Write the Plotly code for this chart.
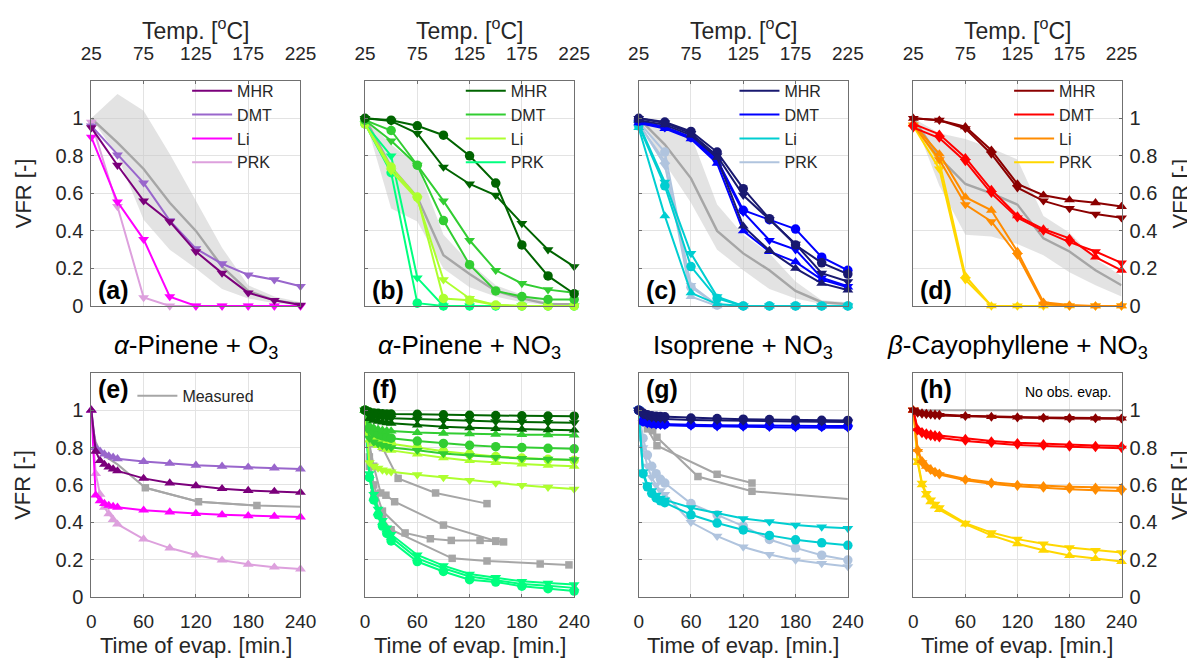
import plotly.graph_objects as go

# ---------------- shared axis values ----------------
temps = [25, 50, 75, 100, 125, 150, 175, 200, 225]
times = [0, 5, 10, 15, 20, 25, 30, 60, 90, 120, 150, 180, 210, 240]
temp_ticks = [25, 75, 125, 175, 225]
time_ticks = [0, 60, 120, 180, 240]
vfr_ticks = [0, 0.2, 0.4, 0.6, 0.8, 1]
models = ["MHR", "DMT", "Li", "PRK"]
system_titles = ["<i>α</i>-Pinene + O<sub>3</sub>", "<i>α</i>-Pinene + NO<sub>3</sub>",
                 "Isoprene + NO<sub>3</sub>", "<i>β</i>-Cayophyllene + NO<sub>3</sub>"]
panel_labels = ["(a)", "(b)", "(c)", "(d)", "(e)", "(f)", "(g)", "(h)"]

# ---------------- (a) a-pinene + O3, thermogram ----------------
a_MHR = [0.95, 0.75, 0.56, 0.45, 0.29, 0.175, 0.07, 0.03, 0.005]
a_DMT = [0.96, 0.805, 0.656, 0.455, 0.305, 0.225, 0.166, 0.14, 0.105]
a_Li = [0.90, 0.555, 0.355, 0.05, 0.0, 0.0, 0.0, 0.0, 0.0]
a_PRK = [0.98, 0.53, 0.045, 0.0, 0.0, 0.0, 0.0, 0.0, 0.0]
a_meas = [1.0, 0.87, 0.73, 0.55, 0.40, 0.21, 0.08, 0.03, 0.01]
a_lo = [1.0, 0.80, 0.46, 0.30, 0.20, 0.09, 0.04, 0.015, 0.005]
a_hi = [1.0, 1.13, 1.04, 0.81, 0.56, 0.31, 0.11, 0.05, 0.02]

# ---------------- (b) a-pinene + NO3, thermogram ----------------
b_MHR_o = [1.0, 0.99, 0.96, 0.91, 0.80, 0.655, 0.325, 0.16, 0.065]
b_MHR_v = [1.0, 0.985, 0.92, 0.74, 0.65, 0.59, 0.44, 0.30, 0.21]
b_DMT_o = [0.99, 0.935, 0.75, 0.455, 0.22, 0.08, 0.05, 0.035, 0.035]
b_DMT_v = [0.99, 0.88, 0.75, 0.56, 0.35, 0.19, 0.12, 0.087, 0.07]
b_Li_o = [0.97, 0.74, 0.58, 0.04, 0.03, 0.005, 0.0, 0.0, 0.0]
b_Li_v = [0.97, 0.72, 0.57, 0.14, 0.04, 0.005, 0.0, 0.0, 0.0]
b_PRK_o = [0.97, 0.71, 0.015, 0.0, 0.0, 0.0, 0.0, 0.0, 0.0]
b_PRK_v = [0.97, 0.80, 0.15, 0.0, 0.0, 0.0, 0.0, 0.0, 0.0]
b_meas = [1.0, 0.74, 0.58, 0.27, 0.17, 0.08, 0.04, 0.01, 0.01]
b_lo = [1.0, 0.52, 0.45, 0.20, 0.10, 0.05, 0.02, 0.005, 0.0]
b_hi = [1.0, 0.86, 0.75, 0.38, 0.23, 0.11, 0.06, 0.02, 0.01]

# ---------------- (c) isoprene + NO3, thermogram ----------------
c_MHR_o = [1.0, 0.98, 0.93, 0.82, 0.625, 0.465, 0.325, 0.23, 0.17]
c_MHR_v = [1.0, 0.975, 0.92, 0.80, 0.59, 0.46, 0.33, 0.175, 0.13]
c_MHR_t = [0.99, 0.965, 0.91, 0.79, 0.425, 0.295, 0.20, 0.12, 0.085]
c_DMT_o = [0.985, 0.955, 0.90, 0.78, 0.51, 0.46, 0.41, 0.26, 0.19]
c_DMT_v = [0.98, 0.95, 0.895, 0.77, 0.50, 0.35, 0.30, 0.15, 0.105]
c_DMT_t = [0.975, 0.945, 0.89, 0.76, 0.40, 0.29, 0.235, 0.14, 0.10]
c_Li_o = [0.96, 0.64, 0.21, 0.04, 0.0, 0.0, 0.0, 0.0, 0.0]
c_Li_v = [0.97, 0.66, 0.28, 0.05, 0.0, 0.0, 0.0, 0.0, 0.0]
c_Li_t = [0.95, 0.48, 0.07, 0.01, 0.0, 0.0, 0.0, 0.0, 0.0]
c_PRK_o = [0.98, 0.82, 0.10, 0.005, 0.0, 0.0, 0.0, 0.0, 0.0]
c_PRK_v = [0.975, 0.75, 0.11, 0.005, 0.0, 0.0, 0.0, 0.0, 0.0]
c_PRK_t = [0.97, 0.77, 0.05, 0.0, 0.0, 0.0, 0.0, 0.0, 0.0]
c_meas = [1.0, 0.86, 0.68, 0.40, 0.28, 0.19, 0.08, 0.02, 0.01]
c_lo = [1.0, 0.76, 0.55, 0.30, 0.19, 0.09, 0.04, 0.01, 0.0]
c_hi = [1.0, 0.98, 0.91, 0.54, 0.38, 0.28, 0.13, 0.03, 0.02]

# ---------------- (d) b-caryophyllene + NO3, thermogram ----------------
d_MHR_t = [1.0, 0.99, 0.955, 0.83, 0.65, 0.59, 0.565, 0.55, 0.53]
d_MHR_v = [1.0, 0.99, 0.945, 0.81, 0.63, 0.56, 0.52, 0.49, 0.47]
d_DMT_t = [0.97, 0.915, 0.79, 0.62, 0.48, 0.41, 0.36, 0.26, 0.19]
d_DMT_v = [0.95, 0.895, 0.77, 0.60, 0.47, 0.40, 0.34, 0.29, 0.23]
d_Li_t = [0.97, 0.81, 0.58, 0.51, 0.29, 0.02, 0.005, 0.0, 0.0]
d_Li_v = [0.965, 0.78, 0.54, 0.45, 0.27, 0.01, 0.0, 0.0, 0.0]
d_PRK_t = [0.97, 0.77, 0.16, 0.0, 0.0, 0.0, 0.0, 0.0, 0.0]
d_PRK_v = [0.96, 0.73, 0.14, 0.0, 0.0, 0.0, 0.0, 0.0, 0.0]
d_meas = [1.0, 0.79, 0.65, 0.60, 0.54, 0.36, 0.29, 0.19, 0.11]
d_lo = [1.0, 0.64, 0.38, 0.37, 0.33, 0.27, 0.18, 0.11, 0.05]
d_hi = [1.0, 0.92, 0.89, 0.84, 0.78, 0.48, 0.39, 0.25, 0.16]

# ---------------- (e) a-pinene + O3, isothermal evaporation ----------------
e_MHR = [1.0, 0.78, 0.73, 0.71, 0.695, 0.685, 0.675, 0.635, 0.61, 0.595, 0.58, 0.57, 0.565, 0.56]
e_DMT = [1.0, 0.80, 0.78, 0.765, 0.755, 0.748, 0.74, 0.725, 0.715, 0.705, 0.70, 0.695, 0.69, 0.685]
e_Li = [1.0, 0.545, 0.515, 0.50, 0.49, 0.485, 0.48, 0.465, 0.455, 0.447, 0.44, 0.435, 0.432, 0.428]
e_PRK = [1.0, 0.66, 0.55, 0.48, 0.445, 0.415, 0.39, 0.31, 0.262, 0.225, 0.197, 0.175, 0.16, 0.15]
e_meas_t = [0, 2, 5, 10, 15, 20, 30, 62, 123, 190, 240]
e_meas_v = [1.0, 0.90, 0.83, 0.78, 0.755, 0.74, 0.71, 0.585, 0.51, 0.49, 0.483]
e_obs_t = [62, 123, 190]
e_obs_v = [0.585, 0.51, 0.49]

# ---------------- (f) a-pinene + NO3, isothermal evaporation ----------------
f_MHR_o = [1.0, 0.99, 0.985, 0.983, 0.981, 0.98, 0.979, 0.978, 0.975, 0.973, 0.971, 0.97, 0.969, 0.968]
f_MHR_v = [1.0, 0.975, 0.968, 0.964, 0.961, 0.959, 0.957, 0.952, 0.946, 0.942, 0.939, 0.937, 0.935, 0.933]
f_MHR_t = [1.0, 0.955, 0.945, 0.94, 0.936, 0.932, 0.93, 0.92, 0.912, 0.906, 0.901, 0.898, 0.895, 0.893]
f_DMT_t = [1.0, 0.92, 0.905, 0.898, 0.893, 0.89, 0.888, 0.88, 0.876, 0.873, 0.871, 0.869, 0.868, 0.867]
f_DMT_o = [1.0, 0.90, 0.88, 0.87, 0.862, 0.856, 0.85, 0.835, 0.822, 0.812, 0.805, 0.80, 0.796, 0.793]
f_DMT_v = [1.0, 0.85, 0.83, 0.82, 0.812, 0.806, 0.80, 0.785, 0.768, 0.757, 0.748, 0.742, 0.738, 0.735]
f_Li_o = [1.0, 0.88, 0.86, 0.85, 0.84, 0.83, 0.82, 0.80, 0.78, 0.765, 0.752, 0.744, 0.737, 0.732]
f_Li_t = [1.0, 0.84, 0.82, 0.81, 0.80, 0.79, 0.785, 0.765, 0.745, 0.73, 0.72, 0.712, 0.705, 0.70]
f_Li_v = [1.0, 0.72, 0.70, 0.69, 0.68, 0.675, 0.67, 0.655, 0.64, 0.625, 0.61, 0.598, 0.588, 0.578]
f_PRK_v = [1.0, 0.66, 0.55, 0.47, 0.41, 0.37, 0.335, 0.225, 0.168, 0.123, 0.105, 0.084, 0.075, 0.067]
f_PRK_t = [1.0, 0.65, 0.53, 0.45, 0.40, 0.36, 0.32, 0.207, 0.154, 0.11, 0.092, 0.07, 0.06, 0.049]
f_PRK_o = [1.0, 0.64, 0.52, 0.44, 0.38, 0.34, 0.30, 0.19, 0.137, 0.093, 0.08, 0.058, 0.045, 0.032]
f_m1_t = [0, 8, 20, 38, 81, 140]
f_m1_v = [1.0, 0.90, 0.80, 0.635, 0.557, 0.50]
f_m2_t = [0, 5, 10, 18, 24, 34, 90, 150, 159]
f_m2_v = [1.0, 0.82, 0.70, 0.557, 0.545, 0.51, 0.385, 0.30, 0.295]
f_m3_t = [0, 5, 10, 20, 46, 75, 99, 132, 150]
f_m3_v = [1.0, 0.75, 0.60, 0.46, 0.343, 0.312, 0.303, 0.303, 0.298]
f_m4_t = [0, 5, 10, 20, 30, 100, 140, 201, 234]
f_m4_v = [1.0, 0.70, 0.55, 0.42, 0.36, 0.207, 0.193, 0.177, 0.172]

# ---------------- (g) isoprene + NO3, isothermal evaporation ----------------
g_MHR_o = [1.0, 0.985, 0.975, 0.97, 0.968, 0.966, 0.965, 0.958, 0.955, 0.952, 0.95, 0.948, 0.946, 0.945]
g_MHR_v = [1.0, 0.975, 0.965, 0.96, 0.957, 0.955, 0.953, 0.948, 0.945, 0.942, 0.94, 0.939, 0.938, 0.937]
g_DMT_o = [1.0, 0.94, 0.935, 0.93, 0.928, 0.926, 0.925, 0.922, 0.92, 0.918, 0.917, 0.916, 0.915, 0.915]
g_DMT_v = [1.0, 0.935, 0.928, 0.925, 0.922, 0.92, 0.919, 0.915, 0.912, 0.91, 0.909, 0.908, 0.907, 0.906]
g_Li_v = [1.0, 0.67, 0.60, 0.57, 0.545, 0.53, 0.52, 0.478, 0.448, 0.42, 0.403, 0.385, 0.375, 0.368]
g_Li_o = [1.0, 0.66, 0.59, 0.555, 0.53, 0.515, 0.505, 0.44, 0.396, 0.359, 0.33, 0.306, 0.29, 0.277]
g_PRK_o = [1.0, 0.85, 0.76, 0.70, 0.66, 0.63, 0.61, 0.50, 0.44, 0.38, 0.308, 0.263, 0.224, 0.198]
g_PRK_v = [1.0, 0.80, 0.70, 0.64, 0.60, 0.57, 0.55, 0.40, 0.326, 0.268, 0.228, 0.198, 0.18, 0.163]
g_m1_t = [0, 16, 21, 68, 130, 240]
g_m1_v = [1.0, 0.89, 0.855, 0.645, 0.566, 0.525]
g_m2_t = [0, 10, 21, 90, 130]
g_m2_v = [1.0, 0.90, 0.81, 0.657, 0.61]

# ---------------- (h) b-caryophyllene + NO3, isothermal evaporation ----------------
h_MHR_t = [1.0, 0.99, 0.985, 0.982, 0.98, 0.978, 0.977, 0.97, 0.966, 0.963, 0.961, 0.959, 0.958, 0.957]
h_MHR_v = [1.0, 0.985, 0.98, 0.977, 0.975, 0.973, 0.972, 0.967, 0.963, 0.96, 0.958, 0.956, 0.955, 0.954]
h_DMT_t = [1.0, 0.90, 0.885, 0.878, 0.872, 0.868, 0.865, 0.848, 0.835, 0.826, 0.82, 0.815, 0.811, 0.808]
h_DMT_v = [1.0, 0.89, 0.875, 0.866, 0.86, 0.856, 0.852, 0.835, 0.823, 0.814, 0.808, 0.803, 0.80, 0.797]
h_Li_t = [1.0, 0.79, 0.73, 0.70, 0.685, 0.672, 0.662, 0.632, 0.614, 0.602, 0.595, 0.59, 0.587, 0.585]
h_Li_v = [1.0, 0.78, 0.72, 0.695, 0.678, 0.665, 0.655, 0.625, 0.606, 0.593, 0.583, 0.577, 0.572, 0.568]
h_PRK_t = [1.0, 0.72, 0.60, 0.545, 0.51, 0.487, 0.468, 0.39, 0.33, 0.285, 0.25, 0.222, 0.205, 0.19]
h_PRK_v = [1.0, 0.73, 0.61, 0.555, 0.52, 0.497, 0.478, 0.395, 0.345, 0.31, 0.285, 0.265, 0.25, 0.238]
h_meas_t = [0, 240]
h_meas_v = [1.0, 1.0]

# ---------------- styling ----------------
FONT = "Liberation Sans, Arial, Helvetica, sans-serif"
TXT = "#262626"
GRID = "#E3E3E3"
AXLINE = "#707070"
MEAS = "#A6A6A6"
BAND = "rgba(200,200,200,0.5)"
palettes = [
    {"MHR": "#7B007B", "DMT": "#9966CC", "Li": "#FF00FF", "PRK": "#DDA0DD"},
    {"MHR": "#006400", "DMT": "#32CD32", "Li": "#ADFF2F", "PRK": "#00FF7F"},
    {"MHR": "#191970", "DMT": "#0000FF", "Li": "#00CED1", "PRK": "#B0C4DE"},
    {"MHR": "#8B0000", "DMT": "#FF0000", "Li": "#FF8C00", "PRK": "#FFD700"},
]
SYM = {"o": "circle", "v": "triangle-down", "t": "triangle-up"}

W, H = 1195, 661
col_px = [(74, 288), (354, 568), (634, 848), (915, 1128)]
row_px = [(74, 303), (371, 599)]

top_series = [
    [("PRK", "v", a_PRK), ("Li", "v", a_Li), ("DMT", "v", a_DMT), ("MHR", "v", a_MHR)],
    [("PRK", "o", b_PRK_o), ("PRK", "v", b_PRK_v), ("Li", "o", b_Li_o), ("Li", "v", b_Li_v),
     ("DMT", "o", b_DMT_o), ("DMT", "v", b_DMT_v), ("MHR", "o", b_MHR_o), ("MHR", "v", b_MHR_v)],
    [("PRK", "o", c_PRK_o), ("PRK", "v", c_PRK_v), ("PRK", "t", c_PRK_t),
     ("Li", "o", c_Li_o), ("Li", "v", c_Li_v), ("Li", "t", c_Li_t),
     ("DMT", "o", c_DMT_o), ("DMT", "v", c_DMT_v), ("DMT", "t", c_DMT_t),
     ("MHR", "o", c_MHR_o), ("MHR", "v", c_MHR_v), ("MHR", "t", c_MHR_t)],
    [("PRK", "t", d_PRK_t), ("PRK", "v", d_PRK_v), ("Li", "t", d_Li_t), ("Li", "v", d_Li_v),
     ("DMT", "t", d_DMT_t), ("DMT", "v", d_DMT_v), ("MHR", "t", d_MHR_t), ("MHR", "v", d_MHR_v)],
]
top_meas = [(a_meas, a_lo, a_hi), (b_meas, b_lo, b_hi), (c_meas, c_lo, c_hi), (d_meas, d_lo, d_hi)]

bot_series = [
    [("PRK", "t", e_PRK), ("Li", "t", e_Li), ("DMT", "t", e_DMT), ("MHR", "t", e_MHR)],
    [("PRK", "o", f_PRK_o), ("PRK", "t", f_PRK_t), ("PRK", "v", f_PRK_v),
     ("Li", "o", f_Li_o), ("Li", "t", f_Li_t), ("Li", "v", f_Li_v),
     ("DMT", "o", f_DMT_o), ("DMT", "t", f_DMT_t), ("DMT", "v", f_DMT_v),
     ("MHR", "o", f_MHR_o), ("MHR", "t", f_MHR_t), ("MHR", "v", f_MHR_v)],
    [("PRK", "o", g_PRK_o), ("PRK", "v", g_PRK_v), ("Li", "o", g_Li_o), ("Li", "v", g_Li_v),
     ("DMT", "o", g_DMT_o), ("DMT", "v", g_DMT_v), ("MHR", "o", g_MHR_o), ("MHR", "v", g_MHR_v)],
    [("PRK", "t", h_PRK_t), ("PRK", "v", h_PRK_v), ("Li", "t", h_Li_t), ("Li", "v", h_Li_v),
     ("DMT", "t", h_DMT_t), ("DMT", "v", h_DMT_v), ("MHR", "t", h_MHR_t), ("MHR", "v", h_MHR_v)],
]
bot_meas = [
    [(e_meas_t, e_meas_v, False), (e_obs_t, e_obs_v, True)],
    [(f_m1_t, f_m1_v, True), (f_m2_t, f_m2_v, True), (f_m3_t, f_m3_v, True), (f_m4_t, f_m4_v, True)],
    [(g_m1_t[:-1], g_m1_v[:-1], True), (g_m1_t[-2:], g_m1_v[-2:], False), (g_m2_t, g_m2_v, True)],
    [(h_meas_t, h_meas_v, False)],
]

fig = go.Figure()


def ax(k, kind):
    return kind if k == 1 else f"{kind}{k}"


def model_trace(k, x, y, color, sym):
    fig.add_trace(go.Scatter(
        x=x, y=y, mode="lines+markers", xaxis=ax(k, "x"), yaxis=ax(k, "y"),
        line=dict(color=color, width=2),
        marker=dict(symbol=SYM[sym], size=9.5, color=color, line=dict(width=0)),
        cliponaxis=False, showlegend=False, hoverinfo="skip"))


for c in range(4):
    k = c + 1
    meas, lo, hi = top_meas[c]
    fig.add_trace(go.Scatter(
        x=temps + temps[::-1], y=hi + lo[::-1], fill="toself", fillcolor=BAND,
        line=dict(width=0), mode="lines", xaxis=ax(k, "x"), yaxis=ax(k, "y"),
        showlegend=False, hoverinfo="skip"))
    fig.add_trace(go.Scatter(
        x=temps, y=meas, mode="lines", line=dict(color=MEAS, width=2.4),
        xaxis=ax(k, "x"), yaxis=ax(k, "y"), showlegend=False, hoverinfo="skip"))
    for m, s, vals in top_series[c]:
        model_trace(k, temps, vals, palettes[c][m], s)
    lg = "legend" if k == 1 else f"legend{k}"
    for m in models:
        fig.add_trace(go.Scatter(
            x=[None], y=[None], mode="lines", name=m, legend=lg,
            line=dict(color=palettes[c][m], width=2), xaxis=ax(k, "x"), yaxis=ax(k, "y")))

for c in range(4):
    k = c + 5
    for tx, vy, mk in bot_meas[c]:
        fig.add_trace(go.Scatter(
            x=tx, y=vy, mode="lines+markers" if mk else "lines",
            line=dict(color=MEAS, width=2),
            marker=dict(symbol="square", size=7.5, color=MEAS),
            cliponaxis=False, xaxis=ax(k, "x"), yaxis=ax(k, "y"),
            showlegend=False, hoverinfo="skip"))
    for m, s, vals in bot_series[c]:
        model_trace(k, times, vals, palettes[c][m], s)

fig.add_trace(go.Scatter(x=[None], y=[None], mode="lines", name="Measured", legend="legend5",
                         line=dict(color=MEAS, width=2), xaxis="x5", yaxis="y5"))

layout = dict(
    width=W, height=H, margin=dict(l=0, r=0, t=0, b=0),
    paper_bgcolor="white", plot_bgcolor="white",
    font=dict(family=FONT, color=TXT, size=19),
)

for i in range(8):
    k = i + 1
    r, c = divmod(i, 4)
    x0, x1 = col_px[c]
    y0, y1 = row_px[r]
    xa = dict(
        domain=[x0 / W, x1 / W], anchor=ax(k, "y"),
        showline=True, mirror=True, linecolor=AXLINE, linewidth=1,
        showgrid=True, gridcolor=GRID, gridwidth=1, zeroline=False,
        ticks="inside", ticklen=3, tickcolor=AXLINE,
        tickfont=dict(size=19, color=TXT, family=FONT),
    )
    if r == 0:
        xa.update(range=[25, 225], tickvals=temp_ticks, side="top", ticklabelstandoff=12)
    else:
        xa.update(range=[0, 240], tickvals=time_ticks, side="bottom", ticklabelstandoff=7)
    ya = dict(
        domain=[1 - y1 / H, 1 - y0 / H], anchor=ax(k, "x"), range=[0, 1.2],
        tickvals=vfr_ticks, showline=True, mirror=True, linecolor=AXLINE, linewidth=1,
        showgrid=True, gridcolor=GRID, gridwidth=1, zeroline=False,
        ticks="inside", ticklen=3, tickcolor=AXLINE,
        tickfont=dict(size=20, color=TXT, family=FONT),
        showticklabels=(c in (0, 3)),
        side="right" if c == 3 else "left",
        ticklabelstandoff=3,
    )
    layout[ax(k, "xaxis")] = xa
    layout[ax(k, "yaxis")] = ya

# legends
for c in range(4):
    k = c + 1
    x0, x1 = col_px[c]
    lg = "legend" if k == 1 else f"legend{k}"
    layout[lg] = dict(x=(x0 + 98) / W, y=1 - 67 / H, xanchor="left", yanchor="top",
                      bgcolor="rgba(255,255,255,0)", borderwidth=0, itemwidth=40,
                      font=dict(size=16, color=TXT, family=FONT), tracegroupgap=0)
layout["legend5"] = dict(x=(col_px[0][0] + 42) / W, y=1 - 377 / H, xanchor="left", yanchor="top",
                         bgcolor="rgba(255,255,255,0)", borderwidth=0, itemwidth=40,
                         font=dict(size=16, color=TXT, family=FONT))

annotations = []
for c in range(4):
    x0, x1 = col_px[c]
    xc = (x0 + x1) / 2 / W
    annotations.append(dict(text=system_titles[c], x=xc, y=1 - 344 / H,
                            xref="paper", yref="paper", showarrow=False,
                            xanchor="center", yanchor="middle",
                            font=dict(size=26, color="black", family=FONT)))
    annotations.append(dict(text="Temp. [<sup>o</sup>C]", x=xc, y=1 - 21 / H,
                            xref="paper", yref="paper", showarrow=False,
                            xanchor="center", yanchor="middle",
                            font=dict(size=23, color=TXT, family=FONT)))
    annotations.append(dict(text="Time of evap. [min.]", x=xc, y=1 - 648 / H,
                            xref="paper", yref="paper", showarrow=False,
                            xanchor="center", yanchor="middle",
                            font=dict(size=22, color=TXT, family=FONT)))
for r in range(2):
    y0, y1 = row_px[r]
    yc = 1 - (y0 + y1) / 2 / H
    for xp in (4, 1188):
        annotations.append(dict(text="VFR [-]", x=xp / W, y=yc, xref="paper", yref="paper",
                                showarrow=False, textangle=-90, xanchor="center", yanchor="middle",
                                font=dict(size=22, color=TXT, family=FONT)))
for i in range(8):
    r, c = divmod(i, 4)
    x0, _ = col_px[c]
    yc = 287 if r == 0 else 387
    annotations.append(dict(text=f"<b>{panel_labels[i]}</b>", x=(x0 + 5) / W, y=1 - yc / H,
                            xref="paper", yref="paper", showarrow=False,
                            xanchor="left", yanchor="middle",
                            font=dict(size=25, color="black", family=FONT)))
annotations.append(dict(text="No obs. evap.", x=1119 / W, y=1 - 391 / H, xref="paper", yref="paper",
                        showarrow=False, xanchor="right", yanchor="middle",
                        font=dict(size=14, color="black", family=FONT)))
layout["annotations"] = annotations

fig.update_layout(**layout)
fig.write_html("out.html")
